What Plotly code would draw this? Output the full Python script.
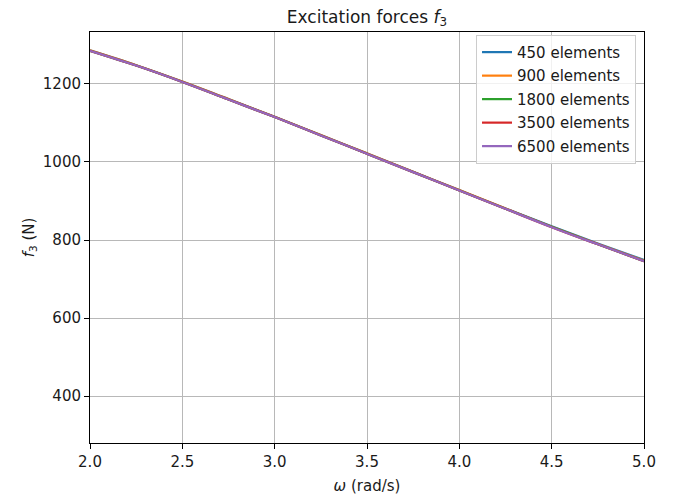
import plotly.graph_objects as go

omega = [2.0, 2.25, 2.5, 2.75, 3.0, 3.25, 3.5, 3.75, 4.0, 4.25, 4.5, 4.75, 5.0]
f3_450 = [1286, 1248, 1206, 1161, 1116, 1069, 1022, 975, 928, 881, 835, 791, 749]
f3_900 = [1286, 1248, 1206, 1161, 1116, 1069, 1022, 975, 928, 881, 834, 790, 747]
f3_1800 = [1285, 1247, 1205, 1160, 1115, 1068, 1021, 974, 927, 880, 834, 789, 746]
f3_3500 = [1285, 1247, 1205, 1160, 1115, 1068, 1021, 974, 927, 880, 833, 789, 746]
f3_6500 = [1285, 1247, 1205, 1160, 1115, 1068, 1021, 974, 927, 880, 833, 789, 746]

series = [
    ("450 elements", f3_450, "#1f77b4"),
    ("900 elements", f3_900, "#ff7f0e"),
    ("1800 elements", f3_1800, "#2ca02c"),
    ("3500 elements", f3_3500, "#d62728"),
    ("6500 elements", f3_6500, "#9467bd"),
]

fig = go.Figure()
for i, (name, vals, col) in enumerate(series):
    fig.add_trace(go.Scatter(x=omega, y=vals, mode="lines", name=name,
                             line=dict(color=col, width=2.2, shape="spline"),
                             legendgroup=str(i)))

font = "DejaVu Sans"
txt = "#1a1a1a"
axis_common = dict(showline=True, linecolor="black", linewidth=1, mirror=True,
                   ticks="outside", ticklen=5, tickcolor="black",
                   showgrid=True, gridcolor="#b8b8b8", gridwidth=1,
                   zeroline=False, tickfont=dict(family=font, size=15, color=txt))

fig.update_layout(
    width=680, height=497,
    margin=dict(l=82, r=44, t=24, b=62),
    paper_bgcolor="white", plot_bgcolor="white",
    title=dict(text="Excitation forces <i>f</i><sub>3</sub>", x=0.5, xref="paper",
               xanchor="center", y=1.0, yref="container", yanchor="top",
               pad=dict(t=3, b=0),
               font=dict(family=font, size=17, color=txt)),
    xaxis=dict(range=[2.0, 5.0], tickvals=[2.0, 2.5, 3.0, 3.5, 4.0, 4.5, 5.0],
               ticktext=["2.0", "2.5", "3.0", "3.5", "4.0", "4.5", "5.0"],
               title=dict(text="<i>ω</i> (rad/s)", font=dict(family=font, size=15, color=txt),
                          standoff=10),
               **axis_common),
    yaxis=dict(range=[280, 1333], tickvals=[400, 600, 800, 1000, 1200],
               title=dict(text="<i>f</i><sub>3</sub> (N)", font=dict(family=font, size=15, color=txt),
                          standoff=4),
               **axis_common),
    legend=dict(x=0.9856, y=0.993, xanchor="right", yanchor="top",
                bordercolor="#cccccc", borderwidth=1, bgcolor="rgba(255,255,255,0.8)",
                font=dict(family=font, size=15, color=txt),
                tracegroupgap=1),
    showlegend=True,
)

fig.write_html("out.html")
